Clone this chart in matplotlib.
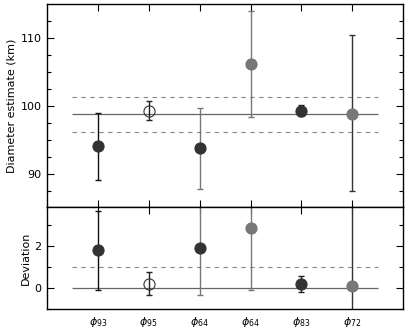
import matplotlib.pyplot as plt
import numpy as np

labels = [r"$\phi_{93}$", r"$\phi_{95}$", r"$\phi_{64}$", r"$\phi_{64}$", r"$\phi_{83}$", r"$\phi_{72}$"]
xpos = np.arange(1, 7)

diam = [94.1, 99.3, 93.8, 106.2, 99.3, 98.9]
diam_lo = [89.2, 97.9, 87.9, 98.4, 98.5, 87.6]
diam_hi = [99.0, 100.7, 99.7, 114.0, 100.1, 110.5]
diam_mean = 98.8
diam_band = [96.2, 101.4]

dev = [1.8, 0.2, 1.9, 2.85, 0.17, 0.08]
dev_lo = [-0.1, -0.35, -0.35, -0.1, -0.2, -2.0]
dev_hi = [3.65, 0.75, 5.0, 5.0, 0.55, 5.0]

face = ["#333333", "none", "#333333", "#777777", "#333333", "#777777"]
bar_col = ["#111111", "#222222", "#777777", "#777777", "#222222", "#333333"]

fig = plt.figure(figsize=(4.07, 3.30), dpi=100)
ax1 = fig.add_axes([0.1155, 0.373, 0.875, 0.615])
ax2 = fig.add_axes([0.1155, 0.0636, 0.875, 0.309])

for ax, vals, lo, hi in [(ax1, diam, diam_lo, diam_hi), (ax2, dev, dev_lo, dev_hi)]:
    for i in range(6):
        ax.errorbar(xpos[i], vals[i],
                    yerr=[[vals[i] - lo[i]], [hi[i] - vals[i]]],
                    fmt="none", ecolor=bar_col[i], elinewidth=1.0,
                    capsize=2.5, capthick=1.0, zorder=2)
        ax.plot(xpos[i], vals[i], "o", ms=8, mfc=face[i],
                mec="#333333" if face[i] == "none" else face[i],
                mew=0.8, zorder=3)

ax1.hlines(diam_mean, 0.5, 6.5, color="#666666", lw=0.9, zorder=1)
ax1.hlines(diam_band, 0.5, 6.5, color="#888888", lw=0.8, linestyles=(0, (4, 4)), zorder=1)
ax2.hlines(0, 0.5, 6.5, color="#666666", lw=0.9, zorder=1)
ax2.hlines(1, 0.5, 6.5, color="#888888", lw=0.8, linestyles=(0, (4, 4)), zorder=1)

ax1.set_xlim(0, 7)
ax1.set_ylim(85.2, 115)
ax1.set_yticks([90, 100, 110])
ax1.set_yticks(np.arange(87.5, 115, 2.5), minor=True)
ax1.set_xticks(xpos)
ax1.set_xticklabels([])
ax1.set_ylabel("Diameter estimate (km)", fontsize=8)

ax2.set_xlim(0, 7)
ax2.set_ylim(-1, 3.86)
ax2.set_yticks([0, 2])
ax2.set_yticks([-1, 1, 3], minor=True)
ax2.set_xticks(xpos)
ax2.set_xticklabels(labels)
ax2.set_ylabel("Deviation", fontsize=8)

for ax in (ax1, ax2):
    ax.tick_params(which="both", direction="in", top=True, right=True,
                   labelsize=8, width=0.8, pad=4)
    ax.tick_params(which="major", length=5)
    ax.tick_params(which="minor", length=3)
    for s in ax.spines.values():
        s.set_linewidth(1.0)
ax2.tick_params(axis="x", which="both", bottom=False, pad=4, labelsize=8)
ax1.yaxis.set_label_coords(-0.085, 0.5)
ax2.yaxis.set_label_coords(-0.045, 0.5)

fig.savefig("out.png", dpi=100)
